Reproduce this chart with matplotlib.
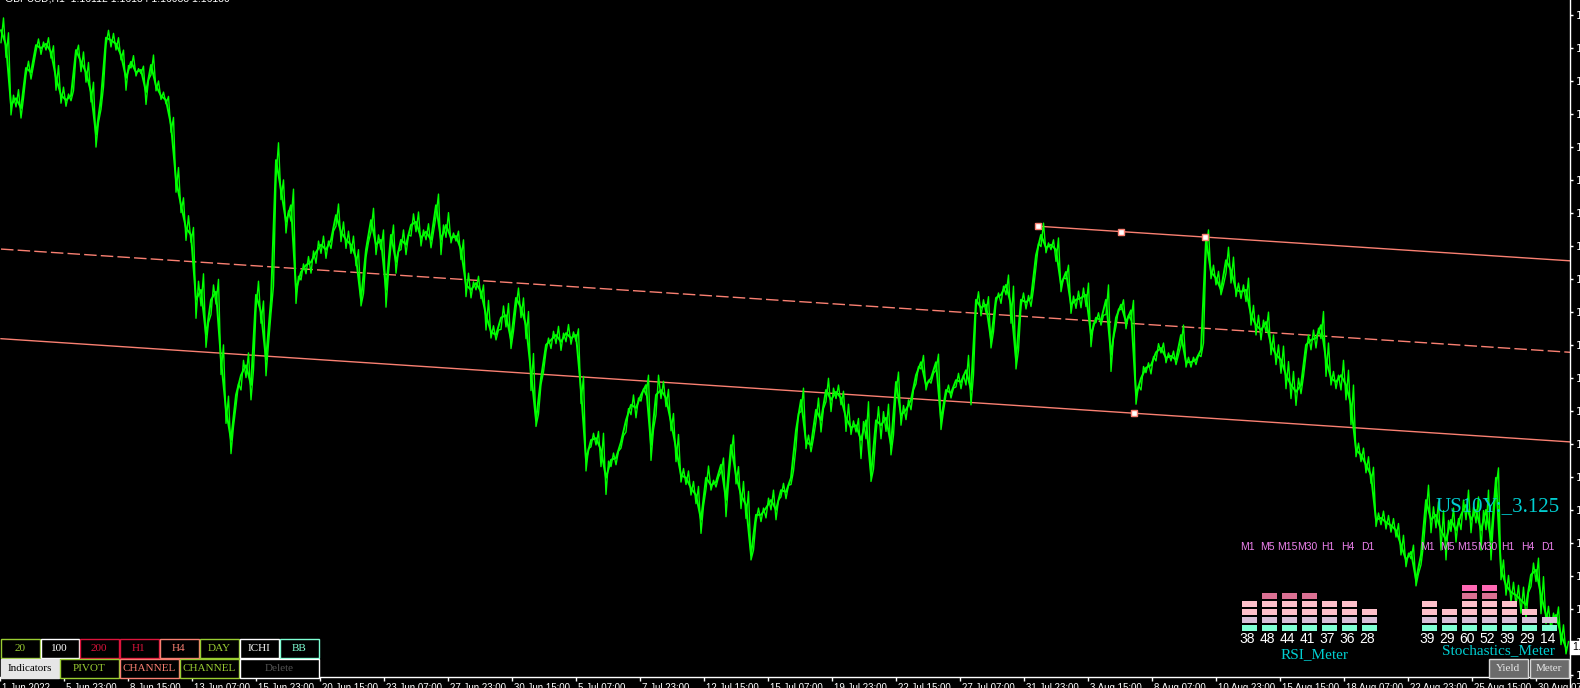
import math
import numpy as np
import matplotlib.pyplot as plt
from matplotlib.patches import Rectangle

W, H, DPI = 1580, 688, 100

# GBPUSD H1 closes, one value every 5 bars
close = [
    1.2608, 1.2584, 1.2487, 1.2498, 1.2482, 1.2547, 1.2540, 1.2584, 1.2579, 1.2586,
    1.2573, 1.2531, 1.2503, 1.2495, 1.2502, 1.2576, 1.2557, 1.2540, 1.2508, 1.2439,
    1.2498, 1.2596, 1.2592, 1.2586, 1.2568, 1.2531, 1.2557, 1.2540, 1.2544, 1.2508,
    1.2552, 1.2518, 1.2502, 1.2495, 1.2455, 1.2366, 1.2325, 1.2288, 1.2277, 1.2172,
    1.2188, 1.2115, 1.2172, 1.2185, 1.2075, 1.1994, 1.1945, 1.2018, 1.2050, 1.2066,
    1.2034, 1.2180, 1.2152, 1.2075, 1.2172, 1.2398, 1.2350, 1.2298, 1.2325, 1.2188,
    1.2217, 1.2228, 1.2233, 1.2249, 1.2261, 1.2253, 1.2269, 1.2309, 1.2282, 1.2269,
    1.2261, 1.2240, 1.2172, 1.2253, 1.2301, 1.2261, 1.2269, 1.2188, 1.2277, 1.2233,
    1.2269, 1.2261, 1.2293, 1.2298, 1.2272, 1.2282, 1.2269, 1.2325, 1.2269, 1.2293,
    1.2272, 1.2275, 1.2253, 1.2196, 1.2188, 1.2199, 1.2185, 1.2147, 1.2120, 1.2115,
    1.2143, 1.2147, 1.2107, 1.2175, 1.2159, 1.2131, 1.2055, 1.1977, 1.2045, 1.2099,
    1.2107, 1.2115, 1.2104, 1.2118, 1.2110, 1.2115, 1.2026, 1.1913, 1.1945, 1.1948,
    1.1929, 1.1884, 1.1913, 1.1916, 1.1942, 1.1977, 1.2002, 1.1997, 1.2018, 1.2034,
    1.1937, 1.2018, 1.2026, 1.2013, 1.1974, 1.1932, 1.1888, 1.1884, 1.1867, 1.1856,
    1.1816, 1.1884, 1.1872, 1.1877, 1.1905, 1.1848, 1.1937, 1.1888, 1.1856, 1.1840,
    1.1759, 1.1824, 1.1824, 1.1835, 1.1848, 1.1832, 1.1864, 1.1861, 1.1884, 1.1961,
    1.2010, 1.1942, 1.1937, 1.1994, 1.1977, 1.2026, 1.2010, 1.2023, 1.2013, 1.1981,
    1.1965, 1.1969, 1.1945, 1.1977, 1.1888, 1.1977, 1.1969, 1.1981, 1.1937, 1.2039,
    1.1985, 1.1994, 1.2010, 1.2050, 1.2071, 1.2034, 1.2045, 1.2071, 1.1977, 1.2026,
    1.2021, 1.2042, 1.2039, 1.2058, 1.2026, 1.2172, 1.2159, 1.2164, 1.2107, 1.2175,
    1.2180, 1.2196, 1.2164, 1.2075, 1.2172, 1.2168, 1.2175, 1.2244, 1.2277, 1.2256,
    1.2261, 1.2253, 1.2196, 1.2217, 1.2164, 1.2172, 1.2175, 1.2180, 1.2115, 1.2143,
    1.2139, 1.2172, 1.2083, 1.2143, 1.2164, 1.2136, 1.2155, 1.2018, 1.2045, 1.2062,
    1.2066, 1.2087, 1.2094, 1.2078, 1.2081, 1.2075, 1.2115, 1.2071, 1.2071, 1.2075,
    1.2091, 1.2269, 1.2217, 1.2207, 1.2188, 1.2236, 1.2220, 1.2188, 1.2185, 1.2188,
    1.2147, 1.2131, 1.2123, 1.2136, 1.2099, 1.2083, 1.2075, 1.2050, 1.2034, 1.2023,
    1.2034, 1.2099, 1.2107, 1.2110, 1.2131, 1.2075, 1.2045, 1.2039, 1.2050, 1.2034,
    1.2002, 1.1929, 1.1921, 1.1905, 1.1888, 1.1816, 1.1819, 1.1812, 1.1807, 1.1799,
    1.1775, 1.1751, 1.1764, 1.1719, 1.1759, 1.1848, 1.1816, 1.1824, 1.1799, 1.1783,
    1.1816, 1.1799, 1.1824, 1.1840, 1.1816, 1.1832, 1.1799, 1.1832, 1.1783, 1.1884,
    1.1735, 1.1710, 1.1699, 1.1694, 1.1686, 1.1678, 1.1727, 1.1735, 1.1694, 1.1662,
    1.1651, 1.1662, 1.1630, 1.1609,
]
# half of the high-low spread around each sample, in pips
half_range = [
    20, 20, 16, 14, 16, 11, 11, 10, 10, 10,
    10, 20, 13, 10, 8, 8, 16, 16, 16, 20,
    18, 12, 11, 10, 8, 20, 10, 6, 6, 20,
    16, 8, 6, 6, 12, 20, 12, 20, 12, 30,
    26, 20, 24, 20, 24, 22, 22, 18, 24, 20,
    24, 22, 18, 26, 22, 28, 16, 18, 26, 22,
    13, 14, 18, 18, 14, 14, 14, 18, 16, 14,
    14, 13, 10, 12, 19, 16, 16, 28, 16, 18,
    16, 16, 18, 16, 13, 13, 13, 18, 24, 20,
    8, 8, 16, 19, 13, 11, 11, 24, 10, 8,
    19, 19, 14, 16, 16, 22, 30, 10, 10, 11,
    14, 14, 14, 14, 10, 10, 22, 18, 11, 11,
    27, 27, 11, 11, 10, 19, 16, 16, 10, 16,
    25, 32, 14, 14, 14, 22, 11, 11, 11, 14,
    22, 19, 8, 8, 11, 27, 16, 14, 22, 22,
    8, 11, 11, 16, 16, 16, 11, 11, 11, 27,
    19, 11, 11, 19, 19, 19, 19, 11, 11, 22,
    11, 11, 30, 30, 10, 22, 22, 22, 16, 16,
    16, 16, 16, 14, 11, 8, 8, 13, 15, 8,
    8, 11, 11, 24, 24, 13, 13, 13, 13, 8,
    14, 16, 30, 15, 11, 11, 14, 19, 19, 8,
    8, 19, 11, 11, 14, 14, 16, 19, 19, 8,
    8, 24, 27, 14, 8, 11, 16, 15, 19, 8,
    14, 14, 8, 8, 8, 8, 16, 8, 8, 8,
    11, 16, 11, 11, 8, 21, 21, 11, 11, 19,
    16, 16, 16, 16, 16, 16, 22, 22, 22, 22,
    14, 16, 16, 16, 22, 27, 11, 11, 24, 24,
    32, 11, 11, 13, 13, 11, 11, 11, 11, 11,
    16, 11, 11, 10, 16, 24, 21, 21, 32, 32,
    19, 19, 24, 24, 21, 21, 32, 32, 32, 16,
    16, 16, 16, 16, 21, 21, 19, 19, 30, 14,
    14, 13, 16, 10,
]
bar_step = 5

# equidistant channel (bar, price)
chan_mid_x, chan_mid_y = [0, 1569], [1.2254, 1.2087]
chan_low_x, chan_low_y = [0, 1569], [1.2109, 1.1942]
chan_up_x, chan_up_y = [1037, 1569], [1.2291, 1.2235]
anchor_x = [1037, 1120, 1204, 1133]
anchor_y = [1.2291, 1.2282, 1.2274, 1.1989]

price_ticks = [1.2633, 1.2579, 1.2526, 1.2473, 1.2419, 1.2366, 1.2312, 1.2259,
               1.2206, 1.2152, 1.2099, 1.2045, 1.1992, 1.1939, 1.1885, 1.1832,
               1.1778, 1.1725, 1.1672, 1.1618, 1.1565]
time_labels = ["1 Jun 2022", "5 Jun 23:00", "8 Jun 15:00", "13 Jun 07:00", "15 Jun 23:00",
               "20 Jun 15:00", "23 Jun 07:00", "27 Jun 23:00", "30 Jun 15:00", "5 Jul 07:00",
               "7 Jul 23:00", "12 Jul 15:00", "15 Jul 07:00", "19 Jul 23:00", "22 Jul 15:00",
               "27 Jul 07:00", "31 Jul 23:00", "3 Aug 15:00", "8 Aug 07:00", "10 Aug 23:00",
               "15 Aug 15:00", "18 Aug 07:00", "22 Aug 23:00", "25 Aug 15:00", "30 Aug 07:00"]
time_ticks = [-1] + list(range(63, 1536, 64))

timeframes = ["M1", "M5", "M15", "M30", "H1", "H4", "D1"]
rsi_vals = [38, 48, 44, 41, 37, 36, 28]
stoch_vals = [39, 29, 60, 52, 39, 29, 14]
us10y = 3.125
last_price = 1.16095

row_colors = ['#7FFFD4', '#D8BFD8', '#FFC0CB', '#FFC0CB', '#DB7093', '#FF69B4']
GREEN = '#00FF00'
SALMON = '#FA8072'
CYAN = '#00CED1'
SANS = ['Liberation Sans', 'DejaVu Sans']
SERIF = ['Liberation Serif', 'DejaVu Serif']

fig = plt.figure(figsize=(W / DPI, H / DPI), dpi=DPI, facecolor='black')

# main price panel
ax = fig.add_axes([0, 11 / H, 1570 / W, 677 / H], facecolor='black')
bars = np.arange(len(close)) * bar_step
c = np.array(close)
hr = np.array(half_range) / 10000.0
# zig-zag between low and high of every sample -> dense bar-chart look
zx = np.ravel(np.column_stack([bars, bars + bar_step / 2]))
zy = np.ravel(np.column_stack([c - hr, c + hr]))
ax.plot(zx, zy, color=GREEN, lw=1.0, zorder=3)
ax.plot(bars, c, color=GREEN, lw=1.4, zorder=3)
ax.plot(chan_mid_x, chan_mid_y, color=SALMON, lw=1, ls=(0, (9, 3)), zorder=2)
ax.plot(chan_low_x, chan_low_y, color=SALMON, lw=1, zorder=2)
ax.plot(chan_up_x, chan_up_y, color=SALMON, lw=1, zorder=2)
ax.plot(anchor_x, anchor_y, ls='none', marker='s', ms=4, mfc='white', mec=SALMON,
        mew=1, zorder=4)

ax.set_xlim(-1, 1569)
ax.set_ylim(1.2657 - 677 * 0.0001618, 1.2657)
for s in ['top', 'left']:
    ax.spines[s].set_visible(False)
for s in ['right', 'bottom']:
    ax.spines[s].set_color('white')
    ax.spines[s].set_linewidth(1)

ax.yaxis.tick_right()
ax.set_yticks(price_ticks, [f"{p:.5f}" for p in price_ticks])
ax.tick_params(axis='y', colors='white', direction='out', length=2.5, width=1,
               pad=1.5, labelsize=8)
ax.set_xticks(time_ticks, [''] * len(time_ticks))
ax.tick_params(axis='x', colors='white', direction='out', length=3, width=1)
for t, lbl in zip(time_ticks, time_labels):
    ax.annotate(lbl, xy=(t, 0), xycoords=('data', 'axes fraction'), xytext=(1.5, -4.2),
                textcoords='offset points', ha='left', va='top', color='white',
                fontsize=7, family=SANS, annotation_clip=False)

ax.annotate(f"{last_price:.5f}", xy=(1, last_price), xycoords=('axes fraction', 'data'),
            xytext=(1.3, 0), textcoords='offset points', ha='left', va='center',
            fontsize=7.5, color='black', family=SANS, annotation_clip=False, zorder=10,
            bbox=dict(boxstyle='square,pad=0.15', fc='white', ec='white'))

# meters
def meter(left_px, values):
    m = fig.add_axes([left_px / W, (H - 631.5) / H, 140 / W, 48 / H])
    m.set_xlim(-0.5, 6.5)
    m.set_ylim(0, 6)
    m.axis('off')
    m.patch.set_alpha(0)
    for i, v in enumerate(values):
        for r in range(math.ceil(v / 10)):
            m.bar(i, 0.68, bottom=r + 0.12, width=0.75, color=row_colors[r],
                  edgecolor='none')
        m.text(i - 0.1, -0.9, str(v), ha='center', va='center', color='white',
               fontsize=10, family=SANS, clip_on=False)
        m.text(i - 0.1, 10.56, timeframes[i], ha='center', va='center', color='#EE82EE',
               fontsize=7.5, family=SANS, clip_on=False)
    return m

meter(1239.5, rsi_vals)
meter(1419.5, stoch_vals)

# overlay in pixel units for the MT4 objects (buttons, captions)
ov = fig.add_axes([0, 0, 1, 1])
ov.set_xlim(0, W)
ov.set_ylim(H, 0)
ov.axis('off')
ov.patch.set_alpha(0)

ov.text(5, 1.8, "GBPUSD,H1  1.16112 1.16134 1.16083 1.16130", color='white',
        fontsize=7.5, family=SANS, va='baseline', ha='left')
ov.plot([1569.5, 1569.5], [677, H], color='white', lw=1)

ov.text(1498, 507, f"US10Y:_{us10y:.3f}", color=CYAN, fontsize=15, family=SERIF,
        ha='center', va='center')
ov.text(1315, 655, "RSI_Meter", color=CYAN, fontsize=11, family=SERIF,
        ha='center', va='center')
ov.text(1498, 651, "Stochastics_Meter", color=CYAN, fontsize=11, family=SERIF,
        ha='center', va='center')

def button(x0, x1, y0, y1, label, fg, edge, bg='black'):
    ov.add_patch(Rectangle((x0 + 0.5, y0 + 0.5), x1 - x0 - 1, y1 - y0 - 1,
                           fc=bg, ec=edge, lw=1, zorder=5))
    ov.text((x0 + x1) / 2, (y0 + y1) / 2 + 0.5, label, color=fg, fontsize=8,
            family=SERIF, ha='center', va='center', zorder=6)

row1 = [("20", '#9ACD32'), ("100", 'white'), ("200", '#DC143C'), ("H1", '#DC143C'),
        ("H4", SALMON), ("DAY", '#9ACD32'), ("ICHI", 'white'), ("BB", '#7FFFD4')]
edges1 = [0, 40, 79, 119, 159, 199, 239, 279, 319]
for (lbl, col), a, b in zip(row1, edges1[:-1], edges1[1:]):
    button(a, b, 638, 658, lbl, col, col)

button(0, 59, 658, 678, "Indicators", 'black', '#E6E6E6', bg='#E6E6E6')
button(59, 119, 658, 678, "PIVOT", '#9ACD32', '#9ACD32')
button(119, 179, 658, 678, "CHANNEL", SALMON, SALMON)
button(179, 239, 658, 678, "CHANNEL", '#9ACD32', '#9ACD32')
button(239, 319, 658, 678, "Delete", '#555555', 'white')

button(1488, 1528, 658, 678, "Yield", '#E8E8E8', '#D8D8D8', bg='#6B6B6B')
button(1529, 1569, 658, 678, "Meter", '#E8E8E8', '#D8D8D8', bg='#6B6B6B')

fig.savefig("out.png", dpi=DPI, facecolor='black')
